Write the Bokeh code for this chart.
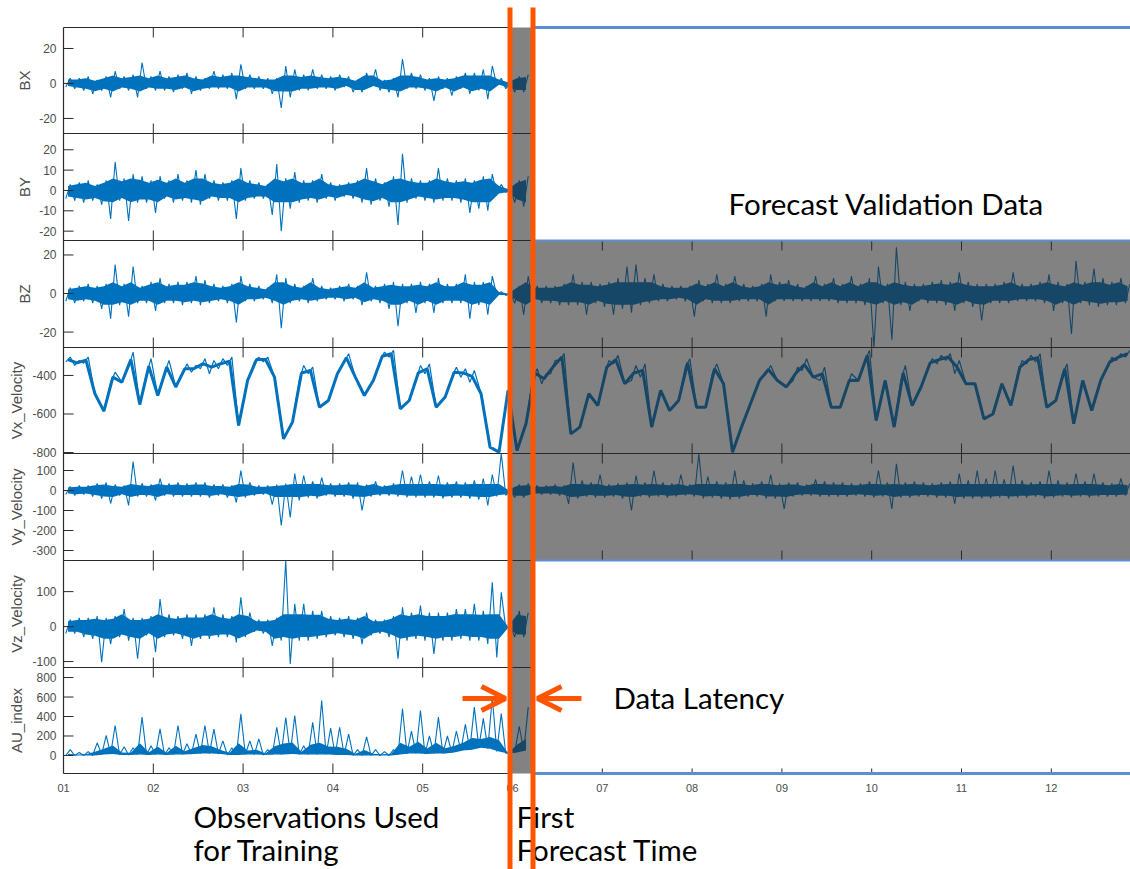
import numpy as np
from bokeh.plotting import figure
from bokeh.models import Range1d, BoxAnnotation, Arrow, OpenHead
from bokeh.core.properties import value
from bokeh.embed import file_html
from bokeh.resources import INLINE

# ---------------- data (per 0.1-day bin: low / high envelope of the trace) ----------------
BIN_START = 1.0      # day of month of first bin
BIN_WIDTH = 0.1      # days per bin

BX_hi = [3,3,4,2,4,7,4,5,12,4,7,4,5,6,4,3,7,5,6,11,5,4,3,3,10,8,5,8,5,4,5,4,2,6,8,2,3,14,6,5,3,4,3,4,6,6,8,10,3,1,4,5]
BX_lo = [-2,-3,-4,-6,-4,-8,-3,-4,-8,-3,-4,-4,-5,-3,-6,-4,-3,-3,-3,-9,-3,-3,-3,-6,-14,-8,-4,-4,-3,-3,-4,-2,-5,-5,-2,-4,-5,-8,-3,-3,-4,-10,-3,-7,-3,-6,-4,-9,-1,-3,-5,-5]

BY_hi = [3,4,5,3,5,14,6,8,7,5,7,5,8,5,10,8,5,4,5,11,5,4,3,13,6,9,5,5,8,4,3,4,5,11,6,4,7,18,6,5,5,11,6,5,6,5,7,8,3,1,5,7]
BY_lo = [-4,-5,-6,-5,-7,-14,-5,-15,-6,-6,-11,-4,-6,-5,-6,-7,-4,-5,-5,-14,-5,-4,-4,-12,-20,-9,-6,-5,-6,-4,-5,-3,-4,-6,-7,-5,-8,-17,-6,-4,-5,-6,-5,-5,-6,-11,-9,-10,-2,-1,-6,-8]

BZ_hi = [3,4,5,4,5,15,5,14,4,6,8,5,6,6,9,7,5,4,5,9,5,4,3,10,8,5,4,8,4,3,4,5,4,11,4,5,6,5,5,6,5,8,5,5,10,6,6,9,1,0,4,9,
         4,4,4,5,10,6,6,5,6,8,14,15,8,10,5,4,4,4,7,5,10,5,9,5,4,5,10,6,7,5,4,9,5,8,5,9,5,8,14,5,24,6,5,5,6,7,6,11,6,5,5,5,6,11,5,5,6,10,6,5,17,6,13,8,6,8,5]
BZ_lo = [-4,-5,-4,-5,-8,-13,-6,-12,-5,-5,-9,-5,-5,-6,-5,-6,-5,-4,-5,-15,-4,-4,-3,-5,-18,-5,-4,-5,-4,-3,-3,-4,-3,-6,-4,-5,-8,-17,-5,-10,-5,-10,-5,-5,-5,-13,-6,-11,-1,-1,-5,-11,
         -4,-5,-5,-6,-6,-6,-11,-5,-7,-11,-8,-10,-6,-5,-4,-4,-3,-4,-12,-4,-5,-5,-5,-4,-4,-4,-12,-4,-4,-4,-4,-4,-4,-4,-5,-5,-5,-6,-28,-5,-24,-6,-9,-4,-5,-5,-6,-9,-5,-7,-14,-5,-5,-5,-4,-4,-4,-5,-9,-5,-21,-5,-6,-7,-6,-6,-5]

VX_hi = [-305,-322,-305,-296,-420,-383,-348,-279,-287,-313,-313,-322,-340,-340,-348,-313,-322,-313,-305,-322,-322,-305,-305,-309,-426,-374,-348,-357,-357,-391,-270,-287,-322,-374,-305,-279,-270,-296,-374,-348,-340,-374,-391,-357,-365,-374,-391,-512,-600,-357,-651,-391,
         -365,-391,-322,-287,-322,-460,-374,-357,-322,-296,-340,-348,-340,-357,-340,-313,-340,-313,-313,-357,-340,-322,-426,-391,-357,-340,-348,-340,-357,-357,-313,-322,-357,-374,-426,-391,-322,-270,-391,-322,-340,-348,-391,-357,-313,-296,-287,-322,-357,-340,-374,-391,-340,-340,-322,-296,-287,-287,-391,-340,-305,-296,-322,-340,-305,-287,-270]
VX_lo = [-330,-348,-336,-495,-585,-435,-435,-357,-550,-391,-504,-391,-460,-391,-383,-365,-391,-365,-348,-660,-426,-330,-330,-409,-729,-642,-426,-391,-565,-530,-391,-330,-409,-504,-426,-322,-305,-573,-530,-426,-391,-565,-512,-409,-409,-435,-495,-772,-798,-478,-790,-651,
         -409,-443,-391,-322,-703,-668,-495,-556,-391,-340,-443,-426,-409,-668,-478,-582,-530,-357,-565,-565,-391,-443,-798,-668,-547,-426,-391,-426,-460,-426,-374,-409,-426,-565,-565,-460,-426,-322,-634,-426,-668,-426,-556,-460,-357,-340,-322,-391,-443,-443,-625,-600,-443,-556,-391,-340,-330,-565,-530,-391,-651,-426,-582,-426,-357,-322,-305]

VY_hi = [20,25,25,35,40,30,25,145,35,30,60,35,40,35,40,40,30,30,25,100,40,25,25,30,35,85,75,45,65,35,35,40,40,30,45,25,35,100,70,80,45,75,40,45,40,50,60,80,185,5,30,35,
         25,25,30,25,140,50,40,80,30,35,40,75,40,100,40,35,80,30,183,70,45,40,100,50,35,45,80,35,40,40,30,55,45,40,40,35,35,45,100,40,133,40,45,40,35,40,45,85,50,100,60,100,55,125,50,40,45,100,50,40,85,45,85,40,35,60,35]
VY_lo = [-20,-25,-20,-30,-40,-65,-25,-75,-30,-30,-50,-25,-30,-30,-30,-30,-35,-25,-35,-60,-35,-25,-20,-70,-175,-135,-50,-35,-40,-25,-30,-30,-40,-100,-30,-25,-25,-30,-35,-35,-35,-35,-40,-35,-35,-40,-45,-75,-30,-25,-35,-35,
         -20,-20,-20,-25,-67,-40,-30,-35,-35,-30,-40,-100,-30,-35,-30,-35,-30,-25,-30,-40,-35,-40,-45,-40,-30,-30,-40,-40,-92,-30,-25,-25,-30,-30,-30,-30,-25,-30,-35,-30,-92,-35,-35,-30,-30,-35,-35,-67,-40,-40,-40,-40,-35,-40,-35,-35,-30,-40,-35,-30,-35,-30,-35,-30,-30,-30,-25]

VZ_hi = [20,25,25,30,25,30,50,25,25,30,79,35,30,35,35,35,55,35,30,84,40,20,20,25,189,65,65,45,45,30,25,30,25,40,20,20,30,55,40,60,40,40,40,50,50,65,45,127,98,0,45,40]
VZ_lo = [-20,-20,-30,-35,-102,-50,-30,-40,-92,-25,-73,-30,-25,-35,-55,-35,-35,-30,-30,-45,-30,-15,-20,-55,-40,-107,-40,-40,-35,-30,-25,-30,-35,-50,-25,-20,-30,-92,-40,-35,-40,-78,-40,-40,-35,-40,-40,-50,-88,-5,-30,-30]

AU_hi = [60,30,40,130,205,308,90,80,393,100,273,80,308,120,220,308,270,150,80,427,150,170,60,290,390,410,100,340,564,280,290,220,60,190,60,40,60,479,250,461,200,393,200,250,320,496,380,598,430,40,300,496]
AU_lo = [0,0,0,0,10,15,5,5,10,5,10,5,10,10,15,20,20,15,5,5,10,10,5,10,10,15,10,10,10,10,5,5,0,0,0,0,0,10,20,20,15,20,20,30,50,60,80,70,40,20,30,50]

# typical half-thickness of the dense noise band of each trace
BX_core, BY_core, BZ_core, VY_core, VZ_core, AU_core = 3.5, 4.5, 4.5, 25, 27, 120

# axis labels, limits, ticks
panel_labels = ["BX", "BY", "BZ", "Vx_Velocity", "Vy_Velocity", "Vz_Velocity", "AU_index"]
panel_limits = [(-28.6, 32), (-24.6, 28), (-28, 27.5), (-805, -255), (-350, 185), (-117, 189), (-185, 903)]
panel_ticks = [[-20, 0, 20], [-20, -10, 0, 10, 20], [-20, 0, 20], [-800, -600, -400],
               [-300, -200, -100, 0, 100], [-100, 0, 100], [0, 200, 400, 600, 800]]
panel_hi = [BX_hi, BY_hi, BZ_hi, VX_hi, VY_hi, VZ_hi, AU_hi]
panel_lo = [BX_lo, BY_lo, BZ_lo, VX_lo, VY_lo, VZ_lo, AU_lo]
panel_core = [BX_core, BY_core, BZ_core, None, VY_core, VZ_core, AU_core]
day_ticks = [1, 2, 3, 4, 5, 6, 7, 8, 9, 10, 11, 12]
day_tick_labels = ["01", "02", "03", "04", "05", "06", "07", "08", "09", "10", "11", "12"]

# ---------------- layout ----------------
W, H = 1130, 869
X0_PX, PX_PER_DAY = 63, 89.8
def day(px):
    return 1 + (px - X0_PX) / PX_PER_DAY
def ypx(py):
    return H - py

panel_tops = [27, 133, 240, 347, 453, 560, 667]
panel_bottom = 773
label_x = [24, 24, 24, 16, 16, 16, 16]
forecast_panels = [2, 3, 4]       # panels with validation data (gray box)

BLUE = "#0072BD"
ORANGE = "#FF5400"
EDGE_BLUE = "#5B8FD2"
FRAME = "#2b2b2b"
TICKTXT = "#4d4d4d"
SANS = value("Liberation Sans")
BIG = value("Lato")

p = figure(width=W, height=H, x_range=Range1d(day(0), day(W)), y_range=Range1d(0, H),
           x_axis_location=None, y_axis_location=None, toolbar_location=None,
           output_backend="svg", min_border=0)
p.outline_line_color = None
p.grid.grid_line_color = None
p.background_fill_color = "white"
p.border_fill_color = "white"

x_left_end = day(508)
x_strip_end = day(532)
x_right_end = day(W)

for i, label in enumerate(panel_labels):
    top = panel_tops[i]
    bot = panel_tops[i + 1] if i + 1 < len(panel_tops) else panel_bottom
    vlo, vhi = panel_limits[i]
    s = (vhi - vlo) / (bot - top)
    name = "r%d" % i
    p.extra_y_ranges[name] = Range1d(start=vlo - (H - bot) * s, end=vhi + top * s)

    lo, hi = panel_lo[i], panel_hi[i]
    n = len(lo)
    centers = [BIN_START + (k + 0.5) * BIN_WIDTH for k in range(n)]
    core = panel_core[i]
    if core is None:
        # solar-wind speed: a noisy curve; follow the dip minimum where a bin holds a dip
        curve = [l if (h - l) > 80 else 0.5 * (h + l) for l, h in zip(lo, hi)]
        p.line(centers, curve, y_range_name=name, line_color=BLUE, line_width=3)
        xs, ys = [], []
        for k in range(n):
            t = BIN_START + k * BIN_WIDTH
            if hi[k] - lo[k] <= 80:
                xs += [t + 0.25 * BIN_WIDTH, t + 0.75 * BIN_WIDTH]
                ys += [lo[k], hi[k]]
            else:
                xs += [t + 0.5 * BIN_WIDTH]
                ys += [lo[k]]
        p.line(xs, ys, y_range_name=name, line_color=BLUE, line_width=1.2)
        continue

    if i == 6:                           # AU index: dense band sits on the baseline
        band_lo = lo
        band_hi = [l + min(0.3 * (h - l), core) for l, h in zip(lo, hi)]
    else:
        band_lo = [max(0.75 * l, -1.3 * core) for l in lo]
        band_hi = [min(0.75 * h, 1.3 * core) for h in hi]
    p.varea(x=centers, y1=band_lo, y2=band_hi, y_range_name=name, fill_color=BLUE, fill_alpha=1)

    xs, ys = [], []
    for k in range(n):
        t = BIN_START + k * BIN_WIDTH
        xs += [t + 0.25 * BIN_WIDTH, t + 0.75 * BIN_WIDTH]
        ys += [lo[k], hi[k]]
    p.line(xs, ys, y_range_name=name, line_color=BLUE, line_width=1.1)

for i, label in enumerate(panel_labels):
    top = panel_tops[i]
    bot = panel_tops[i + 1] if i + 1 < len(panel_tops) else panel_bottom
    name = "r%d" % i
    ticks = panel_ticks[i]
    p.segment(x0=[1] * len(ticks), x1=[day(73)] * len(ticks), y0=ticks, y1=ticks,
              y_range_name=name, line_color=FRAME, line_width=1)
    p.text(x=[day(56)] * len(ticks), y=ticks, text=[str(t) for t in ticks], y_range_name=name,
           text_align="right", text_baseline="middle", text_font=SANS,
           text_font_size="12px", text_color=TICKTXT)
    p.text(x=[day(label_x[i])], y=[ypx((top + bot) / 2)], text=[label], angle=np.pi / 2,
           text_align="center", text_baseline="middle", text_font=SANS,
           text_font_size="15px", text_color=TICKTXT)

    # x ticks at the top and bottom edges of each panel
    tdays = [2, 3, 4, 5]
    if i in forecast_panels:
        tdays = tdays + [7, 8, 9, 10, 11, 12]
    p.segment(x0=tdays, x1=tdays, y0=[ypx(top)] * len(tdays), y1=[ypx(top + 10)] * len(tdays),
              line_color=FRAME, line_width=1)
    p.segment(x0=tdays, x1=tdays, y0=[ypx(bot)] * len(tdays), y1=[ypx(bot - 10)] * len(tdays),
              line_color=FRAME, line_width=1)

# frame lines
seps = panel_tops[1:]
p.segment(x0=[1] * len(seps), x1=[x_strip_end] * len(seps), y0=[ypx(y) for y in seps],
          y1=[ypx(y) for y in seps], line_color=FRAME, line_width=1.2)
p.segment(x0=[x_strip_end] * 2, x1=[x_right_end] * 2, y0=[ypx(347), ypx(453)], y1=[ypx(347), ypx(453)],
          line_color=FRAME, line_width=1.2)
p.segment(x0=[1, 1, 1], x1=[x_left_end, x_left_end, 1], y0=[ypx(27), ypx(773), ypx(27)],
          y1=[ypx(27), ypx(773), ypx(773)], line_color=FRAME, line_width=1.2)
p.segment(x0=[7, 8, 9, 10, 11, 12], x1=[7, 8, 9, 10, 11, 12], y0=[ypx(773)] * 6, y1=[ypx(768)] * 6,
          line_color=FRAME, line_width=1)

# x tick labels
p.text(x=day_ticks, y=[ypx(787)] * len(day_ticks), text=day_tick_labels, text_align="center",
       text_baseline="middle", text_font=SANS, text_font_size="11px", text_color=TICKTXT)

# gray shading: data latency strip + forecast validation block
p.add_layout(BoxAnnotation(left=x_left_end, right=x_strip_end, top=ypx(27), bottom=ypx(773),
                           fill_color="#282828", fill_alpha=0.58, line_color=None))
p.add_layout(BoxAnnotation(left=x_strip_end, right=x_right_end, top=ypx(240), bottom=ypx(560),
                           fill_color="#282828", fill_alpha=0.58, line_color=None))

# light blue edges of the validation area
p.segment(x0=[x_strip_end] * 4, x1=[x_right_end] * 4,
          y0=[ypx(27), ypx(773), ypx(240), ypx(560)], y1=[ypx(27), ypx(773), ypx(240), ypx(560)],
          line_color=EDGE_BLUE, line_width=[3, 3, 2, 2], level="overlay")

# orange markers: end of observations and first forecast time
p.segment(x0=[day(509.5), day(532.5)], x1=[day(509.5), day(532.5)], y0=[ypx(7)] * 2, y1=[ypx(H)] * 2,
          line_color=ORANGE, line_width=5, level="overlay")
p.add_layout(Arrow(end=OpenHead(line_color=ORANGE, line_width=5, size=24),
                   x_start=day(462), y_start=ypx(698), x_end=day(505), y_end=ypx(698),
                   line_color=ORANGE, line_width=5, level="overlay"))
p.add_layout(Arrow(end=OpenHead(line_color=ORANGE, line_width=5, size=24),
                   x_start=day(581), y_start=ypx(698), x_end=day(537), y_end=ypx(698),
                   line_color=ORANGE, line_width=5, level="overlay"))

# annotation texts (y = visual centre of the text line)
p.text(x=[day(728), day(613), day(193), day(193), day(516), day(516)],
       y=[ypx(203), ypx(697), ypx(816), ypx(849), ypx(816), ypx(849)],
       text=["Forecast Validation Data", "Data Latency", "Observations Used", "for Training",
             "First", "Forecast Time"],
       text_align="left", text_baseline="middle", text_font=BIG,
       text_font_size="29.5px", text_color="black")

open("out.html", "w").write(file_html(p, INLINE))
